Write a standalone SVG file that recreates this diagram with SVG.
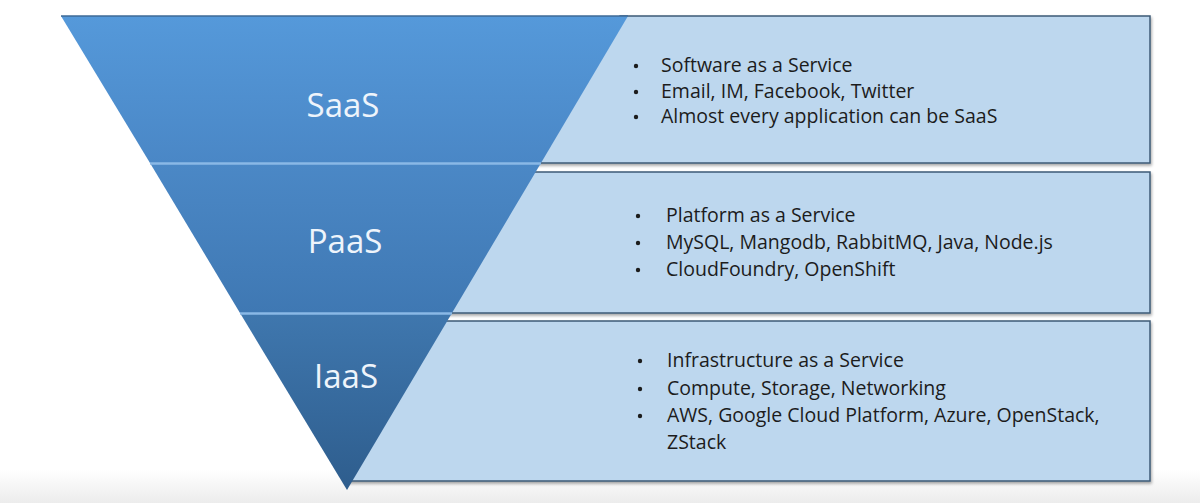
<svg xmlns="http://www.w3.org/2000/svg" width="1200" height="503" viewBox="0 0 1200 503">
<defs>
<linearGradient id="gS" x1="0" y1="0" x2="0" y2="1"><stop offset="0" stop-color="#5599da"/><stop offset="1" stop-color="#4a87c6"/></linearGradient>
<linearGradient id="gP" x1="0" y1="0" x2="0" y2="1"><stop offset="0" stop-color="#4b88c6"/><stop offset="1" stop-color="#3f78b3"/></linearGradient>
<linearGradient id="gI" x1="0" y1="0" x2="0" y2="1"><stop offset="0" stop-color="#3f77ae"/><stop offset="1" stop-color="#2e5d8d"/></linearGradient>
<linearGradient id="gB" x1="0" y1="0" x2="0" y2="1"><stop offset="0" stop-color="#ffffff"/><stop offset="1" stop-color="#ececec"/></linearGradient>
<filter id="sh" x="-5%" y="-5%" width="110%" height="115%"><feDropShadow dx="1" dy="2" stdDeviation="1.5" flood-color="#000" flood-opacity="0.35"/></filter>
</defs>
<style>
.box{fill:#bdd7ee;stroke:#3e5b77;stroke-width:1.5;filter:url(#sh)}
.lbl{font-family:"Open Sans",Lato,sans-serif;font-size:33px;fill:#eef4fb;text-anchor:middle}
.txt{font-family:"Open Sans",Lato,sans-serif;font-size:19.5px;fill:#1c1c1c}
.dot{fill:#1c1c1c}
.sep{stroke:#8ab8e6;stroke-width:2.5}
</style>
<rect width="1200" height="503" fill="#fff"/>
<rect x="0" y="470" width="1200" height="33" fill="url(#gB)"/>
<g id="boxes">
<polygon id="saas-box" class="box" points="620,16 1150,16 1150,163 533,163"/>
<polygon id="paas-box" class="box" points="528,172 1150,172 1150,313 444,313"/>
<polygon id="iaas-box" class="box" points="440,321 1150,321 1150,481 345,481"/>
</g>
<g id="funnel">
<polygon id="saas-band" points="61,16 628,16 541,163 150,163" fill="url(#gS)"/>
<polygon id="paas-band" points="150,163 541,163 452,313 240,313" fill="url(#gP)"/>
<polygon id="iaas-band" points="240,313 452,313 347,490" fill="url(#gI)"/>
<line class="sep" x1="150" y1="163.5" x2="541" y2="163.5"/>
<line class="sep" x1="240" y1="313.5" x2="452" y2="313.5"/>
<line x1="61" y1="16" x2="628" y2="16" stroke="#3e6a96" stroke-width="1.5"/>
</g>
<g id="saas">
<text class="lbl" x="343" y="117">SaaS</text>
<circle class="dot" cx="636" cy="66" r="2.2"/><text class="txt" x="661" y="72">Software as a Service</text>
<circle class="dot" cx="636" cy="92" r="2.2"/><text class="txt" x="661" y="98">Email, IM, Facebook, Twitter</text>
<circle class="dot" cx="636" cy="117" r="2.2"/><text class="txt" x="661" y="123">Almost every application can be SaaS</text>
</g>
<g id="paas">
<text class="lbl" x="345" y="253">PaaS</text>
<circle class="dot" cx="638" cy="216" r="2.2"/><text class="txt" x="666" y="222">Platform as a Service</text>
<circle class="dot" cx="638" cy="243" r="2.2"/><text class="txt" x="666" y="249">MySQL, Mangodb, RabbitMQ, Java, Node.js</text>
<circle class="dot" cx="638" cy="270" r="2.2"/><text class="txt" x="666" y="276">CloudFoundry,  OpenShift</text>
</g>
<g id="iaas">
<text class="lbl" x="346" y="388">IaaS</text>
<circle class="dot" cx="640" cy="361" r="2.2"/><text class="txt" x="667" y="367">Infrastructure as a Service</text>
<circle class="dot" cx="640" cy="389" r="2.2"/><text class="txt" x="667" y="395">Compute, Storage, Networking</text>
<circle class="dot" cx="640" cy="416" r="2.2"/><text class="txt" x="667" y="422">AWS, Google Cloud Platform, Azure, OpenStack,</text>
<text class="txt" x="667" y="449">ZStack</text>
</g>
</svg>
